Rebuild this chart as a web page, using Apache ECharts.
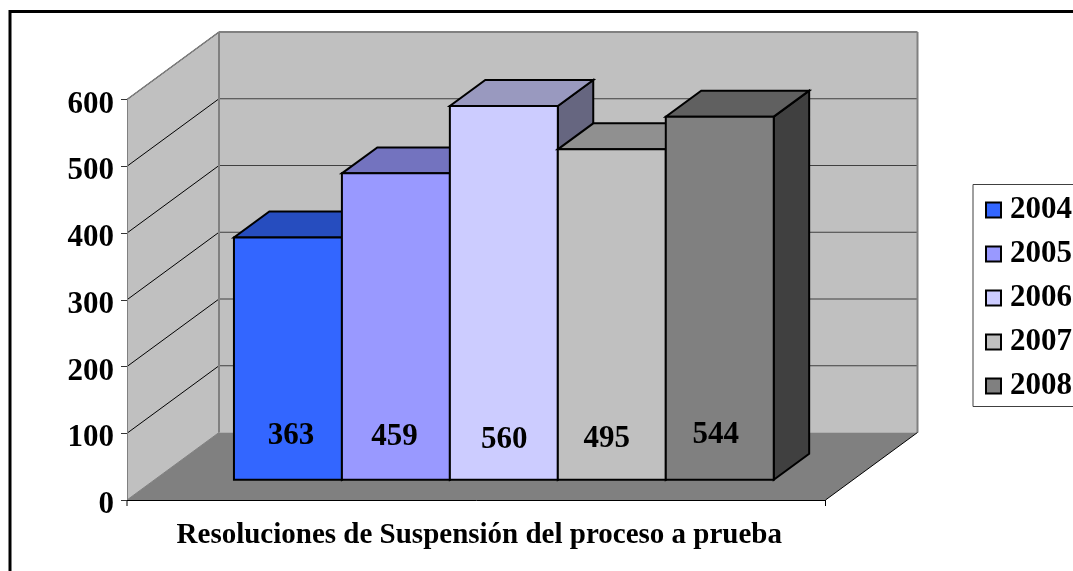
<!DOCTYPE html>
<html>
<head>
<meta charset="utf-8">
<style>html,body{margin:0;padding:0;background:#fff;overflow:hidden}#c{width:1073px;height:571px}</style>
<script src="https://cdn.jsdelivr.net/npm/echarts@6/dist/echarts.min.js"></script>
</head>
<body>
<div id="c"></div>
<script>
const categoryLabel = ['Resoluciones de Suspensión del proceso a prueba'];
const years = ['2004', '2005', '2006', '2007', '2008'];
const values = [363, 459, 560, 495, 544];
const yTicks = [0, 100, 200, 300, 400, 500, 600];
const barColors = ['#3366FF', '#9999FF', '#CCCCFF', '#C0C0C0', '#808080'];
// hand-placed label nudges in the original chart, pixels from the default spot
const labelShiftX = [3, -1.5, 0.5, -5, -4];
const labelShiftY = [0, 1, 4, 3, -1];

const FONT = '"Liberation Serif","Times New Roman",serif';
const DX = 92, DY = -67.5;           // full depth of the 3D box
const BAR_FRONT = 0.30, BAR_BACK = 0.685; // bar front / back planes, as share of depth
const GAP = 1.47;                  // side gap in bar widths

function shade(hex, k) {
  const n = parseInt(hex.slice(1), 16);
  const f = s => Math.round(((n >> s) & 255) * k);
  return 'rgb(' + f(16) + ',' + f(8) + ',' + f(0) + ')';
}

function renderWalls(params, api) {
  const p0 = api.coord([0, 0]);
  const pT = api.coord([0, 600]);
  const band = api.size([1, 0])[0];
  const xL = p0[0] - band / 2, xR = p0[0] + band / 2;
  const y0 = p0[1], yT = pT[1];
  const poly = (points, fill, stroke, lw) => ({
    type: 'polygon', shape: { points },
    style: { fill, stroke: stroke || null, lineWidth: lw || 0 }
  });
  const line = (x1, y1, x2, y2, stroke, lw) => ({
    type: 'line', shape: { x1, y1, x2, y2 }, style: { stroke, lineWidth: lw }
  });
  const children = [
    poly([[xL + DX, y0 + DY], [xR + DX, y0 + DY], [xR + DX, yT + DY], [xL + DX, yT + DY]], '#C0C0C0'),
    poly([[xL, y0], [xL + DX, y0 + DY], [xL + DX, yT + DY], [xL, yT]], '#C0C0C0'),
    poly([[xL, y0], [xR, y0], [xR + DX, y0 + DY], [xL + DX, y0 + DY]], '#808080')
  ];
  yTicks.forEach(v => {
    if (v === 0) return;
    const y = api.coord([0, v])[1];
    children.push(line(xL, y, xL + DX, y + DY, '#000', 1));
    if (v < 600) children.push(line(xL + DX, y + DY, xR + DX, y + DY, '#404040', 1.2));
  });
  children.push(line(xL + DX, yT + DY, xL + DX, y0 + DY, '#808080', 2));
  children.push(line(xL + DX, yT + DY, xR + DX, yT + DY, '#808080', 2));
  children.push(line(xR + DX, yT + DY, xR + DX, y0 + DY, '#808080', 2));
  children.push(line(xL, yT, xL + DX, yT + DY, '#808080', 1.5));
  children.push(line(xL, y0, xL + DX, y0 + DY, '#808080', 1));
  children.push(line(xR, y0, xR + DX, y0 + DY, '#000', 1));
  // end ticks of the category axis
  children.push(line(xL, y0, xL, y0 + 6, '#000', 1));
  children.push(line(xR, y0, xR, y0 + 6, '#000', 1));
  return { type: 'group', children };
}

function makeRenderBar(i) {
  return function (params, api) {
    const v = api.value(1);
    const base = api.coord([0, 0]);
    const top = api.coord([0, v]);
    const band = api.size([1, 0])[0];
    const w = band / (years.length + GAP);
    const fx = DX * BAR_FRONT, fy = DY * BAR_FRONT;
    const dx = DX * (BAR_BACK - BAR_FRONT), dy = DY * (BAR_BACK - BAR_FRONT);
    const x0 = base[0] - band / 2 + w * GAP / 2 + i * w + fx;
    const x1 = x0 + w;
    const yb = base[1] + fy, yt = top[1] + fy;
    const col = barColors[i];
    const edge = { stroke: '#000', lineWidth: 2, lineJoin: 'miter' };
    const poly = (points, fill) => ({
      type: 'polygon', shape: { points }, style: Object.assign({ fill }, edge)
    });
    return {
      type: 'group',
      children: [
        poly([[x1, yb], [x1 + dx, yb + dy], [x1 + dx, yt + dy], [x1, yt]], shade(col, 0.5)),
        poly([[x0, yt], [x1, yt], [x1 + dx, yt + dy], [x0 + dx, yt + dy]], shade(col, 0.75)),
        poly([[x0, yb], [x1, yb], [x1, yt], [x0, yt]], col),
        {
          type: 'text',
          style: {
            text: String(v),
            x: (x0 + x1) / 2 + labelShiftX[i],
            y: yb - 44 + labelShiftY[i],
            align: 'center', verticalAlign: 'middle',
            font: 'bold 31px ' + FONT, fill: '#000'
          }
        }
      ]
    };
  };
}

const series = [{
  type: 'custom', name: 'walls', coordinateSystem: 'cartesian2d', z: 1, silent: true,
  encode: { x: 0, y: 1 }, data: [[0, 0]], renderItem: renderWalls
}];
years.forEach((y, i) => series.push({
  type: 'custom', name: y, coordinateSystem: 'cartesian2d', z: 2, silent: true,
  encode: { x: 0, y: 1 }, data: [[0, values[i]]],
  itemStyle: { color: barColors[i] }, renderItem: makeRenderBar(i)
}));

const chart = echarts.init(document.getElementById('c'), null, { renderer: 'canvas' });
chart.setOption({
  animation: false,
  backgroundColor: '#fff',
  graphic: [{
    type: 'rect', z: 100, silent: true,
    shape: { x: 10, y: 11.5, width: 1300, height: 800 },
    style: { fill: null, stroke: '#000', lineWidth: 3 }
  }],
  grid: { left: 127, top: 99.5, width: 698.5, height: 400.5, containLabel: false },
  xAxis: {
    type: 'category', data: categoryLabel, z: 5,
    axisLine: { lineStyle: { color: '#000', width: 1 } },
    axisTick: { show: false },
    axisLabel: { color: '#000', fontFamily: FONT, fontWeight: 'bold', fontSize: 29, margin: 21, padding: [0, 0, 0, 6] },
    splitLine: { show: false }
  },
  yAxis: {
    type: 'value', min: 0, max: 600, interval: 100, z: 5,
    axisLine: { show: true, lineStyle: { color: '#808080', width: 1 } },
    axisTick: { show: true, length: 6, lineStyle: { color: '#333' } },
    axisLabel: {
      color: '#000', fontFamily: FONT, fontWeight: 'bold', fontSize: 31, margin: 13,
      verticalAlign: 'top', lineHeight: 10
    },
    splitLine: { show: false }
  },
  legend: {
    orient: 'vertical', left: 973, top: 184.5,
    padding: [10, 14, 5, 12], itemGap: 13,
    itemWidth: 15, itemHeight: 15,
    backgroundColor: '#fff', borderColor: '#404040', borderWidth: 1,
    selectedMode: false,
    itemStyle: { borderColor: '#000', borderWidth: 2 },
    textStyle: { color: '#000', fontFamily: FONT, fontWeight: 'bold', fontSize: 31, padding: [0, 0, 0, 4] },
    icon: 'rect',
    data: years
  },
  series
});
</script>
</body>
</html>
